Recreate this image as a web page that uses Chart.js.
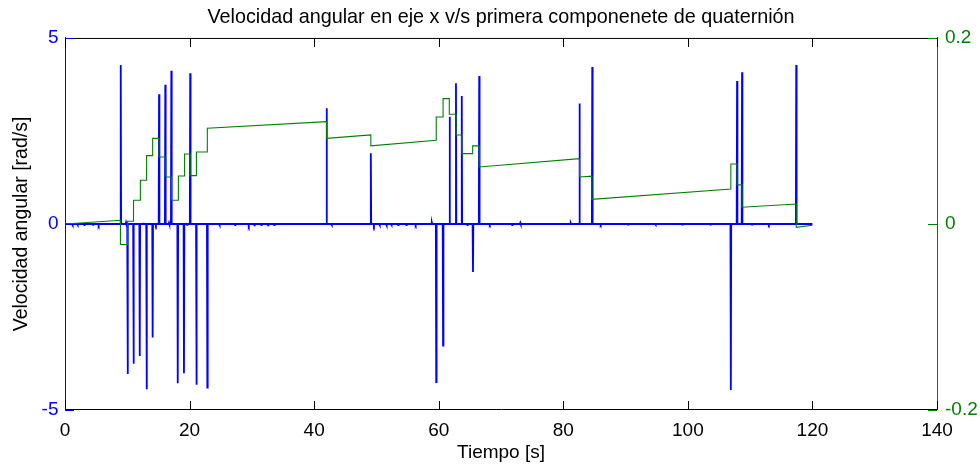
<!DOCTYPE html>
<html><head><meta charset="utf-8">
<script src="https://cdn.jsdelivr.net/npm/chart.js@4.4.0/dist/chart.umd.min.js"></script>
<style>html,body{margin:0;padding:0;background:#fff;}#wrap{width:980px;height:468px;}</style>
</head><body><div id="wrap"><canvas id="c" width="980" height="468"></canvas></div>
<script>
// ---- data ----
const xTicks = [0, 20, 40, 60, 80, 100, 120, 140];
const leftTicks = [-5, 0, 5];
const rightTicks = [-0.2, 0, 0.2];

// angular velocity spikes (time [s], value [rad/s])
const spikeT = [8.95, 10.05, 11.0, 12.0, 13.1, 14.07, 15.1, 16.1, 17.07, 18.1, 19.1, 20.1, 21.1, 22.85, 42.0, 49.1, 59.6, 60.7, 61.75, 62.77, 63.7, 65.5, 66.5, 82.6, 84.65, 106.9, 107.9, 108.7, 117.4];
const spikeV = [4.27, -4.03, -3.76, -3.55, -4.44, -3.05, 3.49, 3.74, 4.12, -4.28, -4.01, 4.05, -4.32, -4.40, 3.11, 1.90, -4.25, -3.27, 2.88, 3.78, 3.44, -1.29, 3.98, 3.24, 4.22, -4.46, 3.84, 4.08, 4.27];
// small noise blips around zero
const blipT = [1.2, 2.0, 3.1, 4.5, 5.4, 9.8, 12.6, 14.6, 16.7, 19.6, 24.8, 27.3, 29.5, 30.4, 31.5, 32.6, 33.6, 42.8, 49.6, 50.5, 51.6, 52.4, 53.5, 54.8, 56.3, 58.9, 64.6, 68.2, 71.8, 73.1, 81.2, 86.0, 90.4, 94.8, 99.1, 103.6, 110.3, 113.0];
const blipV = [-0.03, -0.025, -0.03, -0.025, -0.03, 0.04, 0.03, -0.03, 0.035, -0.025, -0.03, -0.03, -0.035, -0.035, -0.03, -0.035, -0.03, -0.025, -0.035, -0.03, -0.035, -0.025, -0.03, -0.03, -0.025, 0.04, -0.03, -0.02, -0.03, 0.03, 0.025, -0.02, -0.02, -0.02, -0.02, -0.02, -0.02, -0.02];
const endT = 120;

// quaternion first component (step curve vertices)
const greenT = [0, 8.9, 8.9, 10.05, 10.05, 11.0, 11.0, 12.1, 12.1, 13.1, 13.1, 14.07, 14.07, 15.1, 15.1, 16.2, 16.2, 17.1, 17.1, 18.2, 18.2, 19.2, 19.2, 20.1, 20.1, 21.1, 21.1, 22.85, 22.85, 42.0, 42.0, 49.1, 49.1, 59.6, 59.6, 60.7, 60.7, 61.7, 61.7, 62.8, 62.8, 63.7, 63.7, 65.45, 65.45, 66.5, 66.5, 82.6, 82.6, 84.6, 84.6, 106.9, 106.9, 107.9, 107.9, 108.7, 108.7, 117.4, 117.4, 120];
const greenQ = [0, 0.004, -0.022, -0.022, 0.003, 0.003, 0.0255, 0.0255, 0.047, 0.047, 0.0735, 0.0735, 0.092, 0.092, 0.072, 0.072, 0.0505, 0.0505, 0.0255, 0.0255, 0.0516, 0.0516, 0.0753, 0.0753, 0.052, 0.052, 0.0774, 0.0774, 0.103, 0.110, 0.092, 0.0957, 0.084, 0.090, 0.115, 0.115, 0.1348, 0.1348, 0.118, 0.118, 0.0957, 0.0957, 0.0756, 0.0756, 0.084, 0.084, 0.0613, 0.0702, 0.0505, 0.0515, 0.0265, 0.0376, 0.0645, 0.0645, 0.042, 0.042, 0.018, 0.0215, -0.0036, -0.0014];

// ---- build datasets ----
const events = [];
spikeT.forEach((t, i) => events.push([t, spikeV[i]]));
blipT.forEach((t, i) => events.push([t, blipV[i]]));
events.sort((a, b) => a[0] - b[0]);
const bluePts = [{x: 0, y: 0}];
const hw = 0.06;
events.forEach(([t, v]) => {
  bluePts.push({x: t - hw, y: 0}, {x: t, y: v}, {x: t + hw, y: 0});
});
bluePts.push({x: endT, y: 0});
const greenPts = greenT.map((t, i) => ({x: t, y: greenQ[i]}));

const FONT = '"Liberation Sans", Arial, Helvetica, sans-serif';
const BLUE = '#0000ff', GREEN = '#008000';

const frame = {
  id: 'frame',
  afterDraw(chart) {
    const {ctx, chartArea: a, scales} = chart;
    const L = 9;
    ctx.save();
    ctx.lineWidth = 1;
    ctx.strokeStyle = '#000';
    ctx.beginPath();
    ctx.moveTo(a.left, a.top + 0.5); ctx.lineTo(a.right, a.top + 0.5);
    xTicks.forEach(v => {
      const p = Math.round(scales.x.getPixelForValue(v)) + 0.5;
      ctx.moveTo(p, a.bottom); ctx.lineTo(p, a.bottom - L);
      ctx.moveTo(p, a.top); ctx.lineTo(p, a.top + L);
    });
    ctx.stroke();
    ctx.strokeStyle = BLUE;
    ctx.beginPath();
    leftTicks.forEach(v => {
      const p = Math.round(scales.y.getPixelForValue(v)) + 0.5;
      ctx.moveTo(a.left, p); ctx.lineTo(a.left + L, p);
    });
    ctx.stroke();
    ctx.strokeStyle = GREEN;
    ctx.beginPath();
    rightTicks.forEach(v => {
      const p = Math.round(scales.y2.getPixelForValue(v)) + 0.5;
      ctx.moveTo(a.right, p); ctx.lineTo(a.right - L, p);
    });
    ctx.stroke();
    ctx.restore();
  }
};

new Chart(document.getElementById('c'), {
  type: 'scatter',
  data: {
    datasets: [
      {label: 'q0', data: greenPts, yAxisID: 'y2', showLine: true, borderColor: GREEN, borderWidth: 1.1, pointRadius: 0, tension: 0, order: 0},
      {label: 'wx', data: bluePts, yAxisID: 'y', showLine: true, borderColor: BLUE, borderWidth: 1.8, pointRadius: 0, tension: 0, order: 1}
    ]
  },
  options: {
    responsive: false,
    animation: false,
    layout: {padding: 0},
    plugins: {
      legend: {display: false},
      tooltip: {enabled: false},
      title: {
        display: true, fullSize: false,
        text: 'Velocidad angular en eje x v/s primera componenete de quaternión',
        color: '#000', font: {family: FONT, size: 19.8, weight: 'normal', lineHeight: 1.2},
        padding: {top: 5.5, bottom: 8.7}
      }
    },
    scales: {
      x: {
        type: 'linear', min: 0, max: 140,
        afterBuildTicks: s => { s.ticks = xTicks.map(v => ({value: v})); },
        afterFit: s => { s.height = 58; },
        grid: {display: false, drawTicks: false},
        border: {display: true, color: '#000', width: 1},
        ticks: {color: '#000', font: {family: FONT, size: 19}, padding: 9, maxRotation: 0, autoSkip: false},
        title: {display: true, text: 'Tiempo [s]', color: '#000', font: {family: FONT, size: 19, lineHeight: 1.2}, padding: {top: 0, bottom: 4}}
      },
      y: {
        type: 'linear', position: 'left', min: -5, max: 5,
        afterBuildTicks: s => { s.ticks = leftTicks.map(v => ({value: v})); },
        afterFit: s => { s.width = 65; },
        grid: {display: false, drawTicks: false},
        border: {display: true, color: BLUE, width: 1},
        ticks: {color: BLUE, font: {family: FONT, size: 19}, padding: 6.5, autoSkip: false},
        title: {display: true, text: 'Velocidad angular [rad/s]', color: '#000', font: {family: FONT, size: 19.5, lineHeight: 1.2}, padding: {top: 10, bottom: 0}}
      },
      y2: {
        type: 'linear', position: 'right', min: -0.2, max: 0.2,
        afterBuildTicks: s => { s.ticks = rightTicks.map(v => ({value: v})); },
        afterFit: s => { s.width = 43; },
        grid: {display: false, drawTicks: false},
        border: {display: true, color: GREEN, width: 1},
        ticks: {color: GREEN, font: {family: FONT, size: 19}, padding: 8, autoSkip: false,
          callback: v => (Math.abs(v) < 1e-9 ? '0' : String(v))}
      }
    }
  },
  plugins: [frame]
});
</script>
</body></html>
